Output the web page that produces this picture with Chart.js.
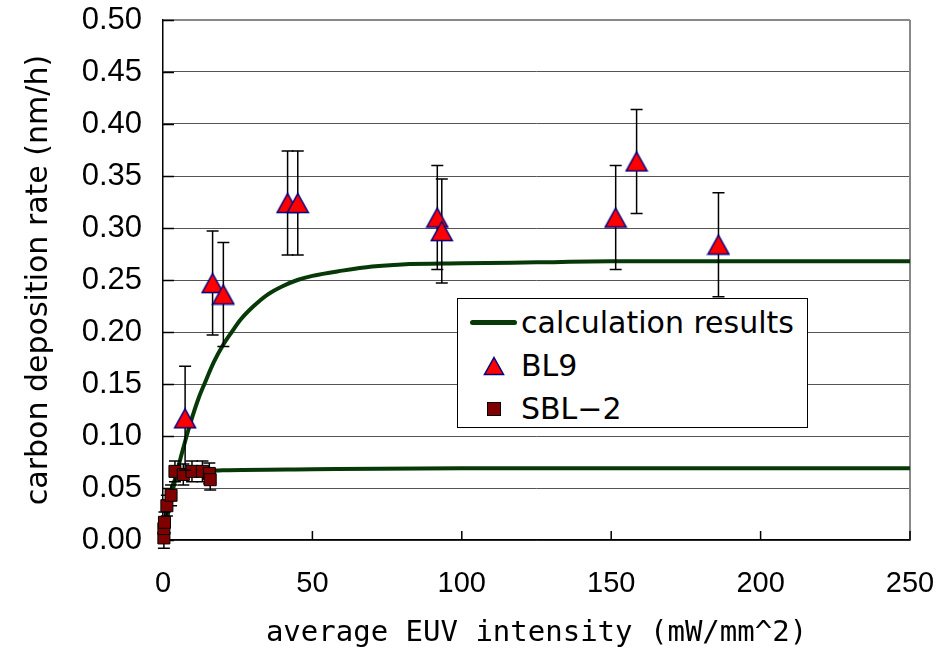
<!DOCTYPE html>
<html>
<head>
<meta charset="utf-8">
<script src="https://cdn.jsdelivr.net/npm/chart.js@4/dist/chart.umd.min.js"></script>
<style>
  body { margin: 0; background: #fff; }
  #wrap { position: relative; width: 948px; height: 651px; }
  #legend {
    position: absolute; left: 457px; top: 298px; width: 351px; height: 130px;
    box-sizing: border-box; border: 1px solid #000; background: #fff;
    padding-top: 2px; font-family: 'DejaVu Sans', sans-serif; font-size: 30px; color: #000;
  }
  .row { display: flex; align-items: center; height: 43px; }
  .mk { width: 55px; margin-left: 8px; display: flex; justify-content: center; align-items: center; }
  .txt { margin-left: 0; white-space: nowrap; }
  .ln { width: 47px; height: 5px; border-radius: 3px; background: #073807; }
</style>
</head>
<body>
<div id="wrap">
  <canvas id="chart" width="948" height="651"></canvas>
  <div id="legend">
    <div class="row"><div class="mk"><div class="ln"></div></div><span class="txt">calculation results</span></div>
    <div class="row"><div class="mk"><svg width="22" height="20"><polygon points="11,1.5 20.5,18.5 1.5,18.5" fill="#ff0000" stroke="#000080" stroke-width="1.5"/></svg></div><span class="txt">BL9</span></div>
    <div class="row"><div class="mk"><svg width="14" height="14"><rect x="0.5" y="0.5" width="13" height="13" fill="#800000" stroke="#000" stroke-width="1"/></svg></div><span class="txt">SBL&#8722;2</span></div>
  </div>
</div>
<script>
// calculation results (two saturating curves)
const calcX1 = [0, 2, 4, 6, 8, 10, 12, 14, 17, 20, 23, 26, 30, 35, 40, 45, 50, 60, 70, 80, 100, 125, 150, 200, 250];
const calcY1 = [0, 0.030, 0.057, 0.080, 0.101, 0.120, 0.137, 0.151, 0.171, 0.187, 0.200, 0.212, 0.224, 0.236, 0.244, 0.250, 0.254, 0.259, 0.263, 0.265, 0.266, 0.267, 0.268, 0.268, 0.268];
const calcX2 = [0, 1, 2, 3, 4, 5, 6, 8, 12, 20, 50, 100, 250];
const calcY2 = [0, 0.020, 0.037, 0.050, 0.058, 0.062, 0.064, 0.066, 0.066, 0.067, 0.068, 0.069, 0.069];

// BL9 measurements
const bl9X = [7.4, 16.6, 20.2, 41.7, 45.1, 91.8, 93.3, 151.5, 158.5, 185.9];
const bl9Y = [0.117, 0.247, 0.236, 0.324, 0.324, 0.310, 0.297, 0.310, 0.364, 0.284];
const bl9Err = [0.05, 0.05, 0.05, 0.05, 0.05, 0.05, 0.05, 0.05, 0.05, 0.05];

// SBL-2 measurements
const sblX = [0.3, 0.3, 0.5, 1.3, 2.7, 4.0, 6.8, 9.7, 13.2, 15.5, 15.8];
const sblY = [0.002, 0.011, 0.017, 0.033, 0.043, 0.066, 0.063, 0.066, 0.066, 0.064, 0.058];
const sblErr = [0.01, 0.01, 0.01, 0.01, 0.01, 0.01, 0.01, 0.01, 0.01, 0.01, 0.01];

// axis settings
const xMin = 0, xMax = 250, xStep = 50;
const yMin = 0, yMax = 0.5, yStep = 0.05;

const CURVE = '#073807';

function pairs(xs, ys) {
    return xs.map((x, i) => ({ x: x, y: ys[i] }));
}

function makeTriangle() {
    const c = document.createElement('canvas');
    c.width = 24; c.height = 22;
    const g = c.getContext('2d');
    g.beginPath();
    g.moveTo(12, 1.5);
    g.lineTo(22.5, 20.5);
    g.lineTo(1.5, 20.5);
    g.closePath();
    g.fillStyle = '#ff0000';
    g.fill();
    g.lineWidth = 1.5;
    g.strokeStyle = '#000080';
    g.stroke();
    return c;
}

// error bars drawn just before each scatter dataset
const errorBars = {
    id: 'errorBars',
    beforeDatasetDraw(chart, args) {
        const ds = chart.data.datasets[args.index];
        if (!ds.errors) return;
        const xs = chart.scales.x, ys = chart.scales.y, ctx = chart.ctx;
        ctx.save();
        ctx.strokeStyle = '#000';
        ctx.lineWidth = 1.5;
        ds.data.forEach((p, i) => {
            const e = ds.errors[i];
            const px = xs.getPixelForValue(p.x);
            const t = ys.getPixelForValue(p.y + e);
            const b = ys.getPixelForValue(p.y - e);
            ctx.beginPath();
            ctx.moveTo(px, t); ctx.lineTo(px, b);
            ctx.moveTo(px - 6, t); ctx.lineTo(px + 6, t);
            ctx.moveTo(px - 6, b); ctx.lineTo(px + 6, b);
            ctx.stroke();
        });
        ctx.restore();
    }
};

// inside tick marks and grey right edge
const frame = {
    id: 'frame',
    beforeDatasetsDraw(chart) {
        const { ctx, chartArea: a, scales } = chart;
        ctx.save();
        ctx.strokeStyle = '#888';
        ctx.lineWidth = 2;
        ctx.beginPath();
        ctx.moveTo(a.right, a.top); ctx.lineTo(a.right, a.bottom);
        ctx.stroke();
        ctx.strokeStyle = '#000';
        ctx.lineWidth = 1.5;
        ctx.beginPath();
        scales.y.ticks.forEach(t => {
            const py = Math.round(scales.y.getPixelForValue(t.value)) + 0.5;
            ctx.moveTo(a.left, py); ctx.lineTo(a.left + 11, py);
        });
        scales.x.ticks.forEach(t => {
            const px = scales.x.getPixelForValue(t.value);
            ctx.moveTo(px, a.bottom); ctx.lineTo(px, a.bottom - 9);
        });
        ctx.stroke();
        ctx.restore();
    }
};

const ctx = document.getElementById('chart');
new Chart(ctx, {
    type: 'scatter',
    data: {
        datasets: [
            {
                label: 'BL9',
                data: pairs(bl9X, bl9Y),
                errors: bl9Err,
                pointStyle: makeTriangle(),
                order: 1,
                clip: false
            },
            {
                label: 'SBL-2',
                data: pairs(sblX, sblY),
                errors: sblErr,
                pointStyle: 'rect',
                pointRadius: 8.5,
                backgroundColor: '#800000',
                borderColor: '#000',
                borderWidth: 1,
                order: 2,
                clip: false
            },
            {
                label: 'calculation results',
                data: pairs(calcX1, calcY1),
                showLine: true,
                pointRadius: 0,
                borderColor: CURVE,
                borderWidth: 4,
                cubicInterpolationMode: 'monotone',
                order: 3
            },
            {
                label: 'calculation results 2',
                data: pairs(calcX2, calcY2),
                showLine: true,
                pointRadius: 0,
                borderColor: CURVE,
                borderWidth: 4,
                cubicInterpolationMode: 'monotone',
                order: 4
            }
        ]
    },
    options: {
        responsive: false,
        animation: false,
        events: [],
        layout: { padding: { top: 20, right: 38, bottom: 0, left: 0 } },
        plugins: { legend: { display: false }, tooltip: { enabled: false } },
        scales: {
            x: {
                type: 'linear',
                min: xMin, max: xMax,
                ticks: {
                    stepSize: xStep,
                    padding: 27,
                    color: '#000',
                    font: { family: "'Liberation Sans', Arial, sans-serif", size: 29 }
                },
                grid: { display: true, drawOnChartArea: false, drawTicks: false },
                border: { display: true, color: '#000', width: 1.5 },
                title: {
                    display: true,
                    text: 'average EUV intensity (mW/mm^2)',
                    color: '#000',
                    padding: { top: 0, bottom: 0 },
                    font: { family: "'DejaVu Sans Mono', monospace", size: 29 }
                },
                afterFit: s => { s.height = 111; s.paddingLeft = 0; s.paddingRight = 0; }
            },
            y: {
                type: 'linear',
                min: yMin, max: yMax,
                ticks: {
                    stepSize: yStep,
                    padding: 21,
                    color: '#000',
                    callback: v => v.toFixed(2),
                    font: { family: "'Liberation Sans', Arial, sans-serif", size: 31 }
                },
                grid: {
                    drawTicks: false,
                    color: c => (c.tick && c.tick.value >= yMax - 1e-9) ? '#888' : '#555',
                    lineWidth: c => (c.tick && c.tick.value >= yMax - 1e-9) ? 2 : 1
                },
                border: { display: true, color: '#000', width: 1.5 },
                title: {
                    display: true,
                    text: 'carbon deposition rate (nm/h)',
                    color: '#000',
                    padding: { top: 21, bottom: 0 },
                    font: { family: "'DejaVu Sans', sans-serif", size: 30 }
                },
                afterFit: s => { s.width = 163; s.paddingTop = 0; s.paddingBottom = 0; }
            }
        }
    },
    plugins: [errorBars, frame]
});
</script>
</body>
</html>
